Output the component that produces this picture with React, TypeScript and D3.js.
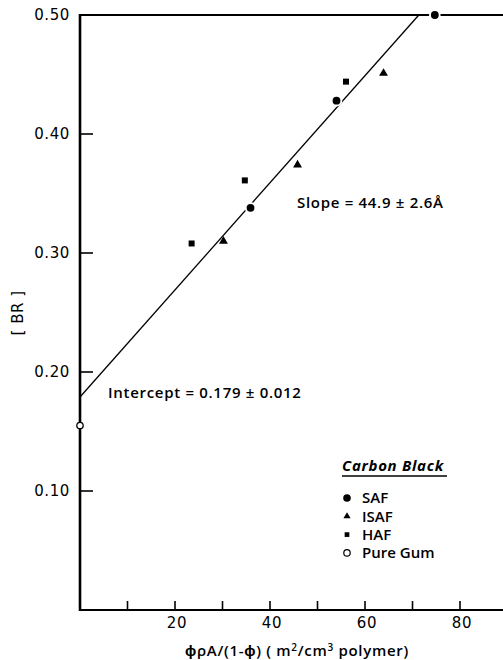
import React from 'react';
import * as d3 from 'd3';

// data
const xTicks = [10, 20, 30, 40, 50, 60, 70, 80];
const xTickLabels = [20, 40, 60, 80];
const yTicks = [0.1, 0.2, 0.3, 0.4];
const yTickLabels = [0.1, 0.2, 0.3, 0.4, 0.5];

const safX = [35.9, 54.0, 74.7];
const safY = [0.338, 0.428, 0.5];
const isafX = [30.2, 45.8, 63.9];
const isafY = [0.310, 0.374, 0.451];
const hafX = [23.5, 34.7, 56.0];
const hafY = [0.308, 0.361, 0.444];
const gumX = [0];
const gumY = [0.155];

const fitIntercept = 0.179;
const fitSlope = 0.0045;

const legendNames = ['SAF', 'ISAF', 'HAF', 'Pure Gum'];

const W = 503;
const H = 660;
const margin = { top: 15, left: 80, bottom: 50 };

const font = '"DejaVu Sans", sans-serif';
const labelFont = '"Open Sans", sans-serif';

export default function App() {
  const x = d3.scaleLinear().domain([0, 90]).range([margin.left, margin.left + 90 * 4.75]);
  const y = d3.scaleLinear().domain([0, 0.5]).range([H - margin.bottom, margin.top]);

  const tri = d3.symbol().type(d3.symbolTriangle).size(34)()!;
  const sq = d3.symbol().type(d3.symbolSquare).size(36)()!;

  const fitEnd = (0.5 - fitIntercept) / fitSlope;
  const fitLine = d3.line<number>().x(d => x(d)).y(d => y(fitIntercept + fitSlope * d));

  const x0 = x(0);
  const yBase = y(0);
  const yTop = y(0.5);

  return (
    <svg width={W} height={H} style={{ position: 'absolute', left: 0, top: 0, background: '#fff' }}
      fontFamily={font}>
      {/* frame */}
      <line x1={x0} x2={W} y1={yTop} y2={yTop} stroke="#000" strokeWidth={2.2} />
      <line x1={x0} x2={W} y1={yBase} y2={yBase} stroke="#000" strokeWidth={2.2} />
      <line x1={x0} x2={x0} y1={yTop - 1} y2={yBase + 1} stroke="#000" strokeWidth={2.6} />

      {/* y ticks */}
      {yTicks.map(t => (
        <line key={'yt' + t} x1={x0} x2={x0 + 13} y1={y(t)} y2={y(t)} stroke="#000" strokeWidth={1.6} />
      ))}
      {yTickLabels.map(t => (
        <text key={'yl' + t} x={x0 - 10} y={y(t)} dy="0.36em" textAnchor="end" fontSize={15} letterSpacing={0.6}>
          {t.toFixed(2)}
        </text>
      ))}

      {/* x ticks */}
      {xTicks.map(t => (
        <line key={'xt' + t} x1={x(t)} x2={x(t)} y1={yBase} y2={yBase - 9} stroke="#000" strokeWidth={1.6} />
      ))}
      {xTickLabels.map(t => (
        <text key={'xl' + t} x={x(t) + 2} y={yBase + 18} textAnchor="middle" fontSize={15} letterSpacing={0.6}>
          {t}
        </text>
      ))}

      {/* axis titles */}
      <text x={297} y={656} textAnchor="middle" fontSize={15} fontFamily={labelFont} fontWeight={600} letterSpacing={0.7}>
        ϕρA/(1-ϕ) ( m<tspan dy={-5} fontSize={10}>2</tspan><tspan dy={5}>/cm</tspan>
        <tspan dy={-5} fontSize={10}>3</tspan><tspan dy={5}> polymer)</tspan>
      </text>
      <text transform={`translate(23,313) rotate(-90)`} textAnchor="middle" fontSize={15} letterSpacing={0.5}>
        [ BR ]
      </text>

      {/* fit line */}
      <path d={fitLine([0, fitEnd]) || ''} fill="none" stroke="#000" strokeWidth={1.3} />

      {/* points */}
      {safX.map((v, i) => (
        <g key={'s' + i}>
          <circle cx={x(v)} cy={y(safY[i])} r={5.8} fill="#fff" />
          <circle cx={x(v)} cy={y(safY[i])} r={3.9} fill="#000" />
        </g>
      ))}
      {isafX.map((v, i) => (
        <path key={'i' + i} d={tri} transform={`translate(${x(v)},${y(isafY[i])})`} fill="#000" />
      ))}
      {hafX.map((v, i) => (
        <path key={'h' + i} d={sq} transform={`translate(${x(v)},${y(hafY[i])})`} fill="#000" />
      ))}
      {gumX.map((v, i) => (
        <circle key={'g' + i} cx={x(v)} cy={y(gumY[i])} r={3.2} fill="#fff" stroke="#000" strokeWidth={1.3} />
      ))}

      {/* annotations */}
      <g fontFamily={labelFont} fontWeight={600} fontSize={15} letterSpacing={0.7}>
        <text x={297} y={208}>Slope = 44.9 ± 2.6Å</text>
        <text x={108} y={398}>Intercept = 0.179 ± 0.012</text>
      </g>

      {/* legend */}
      <g fontFamily={labelFont} fontWeight={600} fontSize={15}>
        <text x={342} y={471} fontStyle="italic" fontWeight="bold" letterSpacing={0.7}>Carbon Black</text>
        <line x1={342} x2={447} y1={476} y2={476} stroke="#000" strokeWidth={1.5} />
        {legendNames.map((name, i) => {
          const ly = 498 + i * 18.3;
          let mark;
          if (i === 0) mark = <circle cx={347} cy={ly} r={3.8} fill="#000" />;
          else if (i === 1) mark = <path d={d3.symbol().type(d3.symbolTriangle).size(22)()!} transform={`translate(347,${ly})`} fill="#000" />;
          else if (i === 2) mark = <path d={d3.symbol().type(d3.symbolSquare).size(22)()!} transform={`translate(347,${ly})`} fill="#000" />;
          else mark = <circle cx={347} cy={ly} r={3.2} fill="#fff" stroke="#000" strokeWidth={1.2} />;
          return (
            <g key={name}>
              {mark}
              <text x={362} y={ly} dy="0.36em">{name}</text>
            </g>
          );
        })}
      </g>
    </svg>
  );
}
